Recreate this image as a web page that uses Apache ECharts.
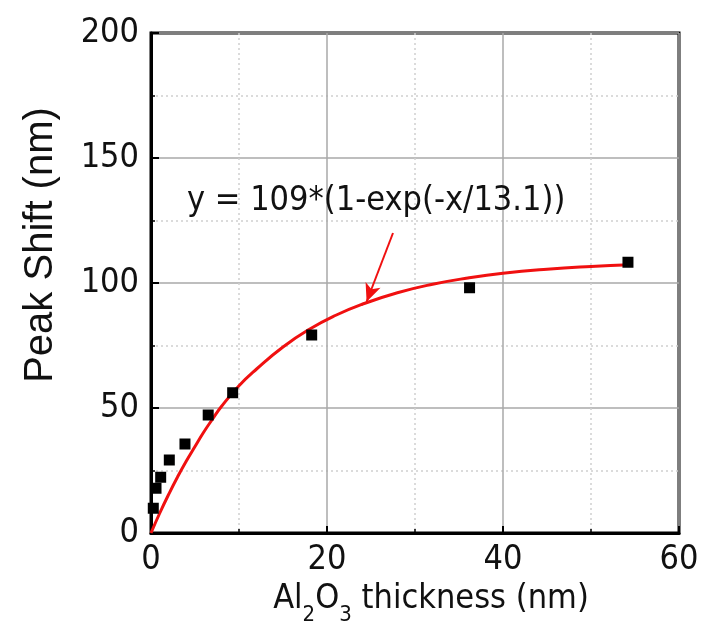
<!DOCTYPE html>
<html><head><meta charset="utf-8">
<script src="https://cdn.jsdelivr.net/npm/echarts@6/dist/echarts.min.js"></script>
<style>html,body{margin:0;padding:0;background:#fff}#c{width:702px;height:639px}</style>
</head><body><div id="c"></div>
<script>
var thickness = [0.26, 0.57, 1.1, 2.08, 3.86, 6.5, 9.28, 18.26, 36.2, 54.2];
var peakShift = [9.9, 17.9, 22.3, 29.2, 35.6, 47.2, 56.1, 79.2, 98.1, 108.3];
var fitX = [0, 1, 2, 3, 4, 5, 6, 7, 8, 10, 12, 15, 18, 21, 24, 28, 32, 36, 40, 45, 50, 54.4];
var fitY = [0, 8.0, 15.4, 22.3, 28.7, 34.6, 40.4, 45.6, 50.6, 58.9, 65.6, 74.4, 81.5, 87.1, 91.5, 96.1, 99.5, 102.0, 103.9, 105.5, 106.6, 107.3];
var xTicks = [0, 20, 40, 60];
var yTicks = [0, 50, 100, 150, 200];
var arrowFrom = [27.5, 120];
var arrowTo = [24.5, 92.5];
var fitLabel = 'y = 109*(1-exp(-x/13.1))';

var NARROW = "'DejaVu Sans Condensed', sans-serif";
var REG = "'Liberation Sans', sans-serif";

var chart = echarts.init(document.getElementById('c'));
chart.setOption({
  animation: false,
  backgroundColor: '#fff',
  grid: {left: 151, right: 23, top: 33, bottom: 106, outerBoundsMode: 'none', containLabel: false,
         show: true, borderColor: '#000', borderWidth: 3, backgroundColor: 'transparent'},
  xAxis: {
    type: 'value', min: xTicks[0], max: xTicks[xTicks.length - 1], interval: 20,
    axisLine: {show: true, onZero: false, lineStyle: {color: '#000', width: 3}},
    axisTick: {show: true, inside: true, length: 7, lineStyle: {color: '#000', width: 2}},
    minorTick: {show: true, splitNumber: 2, length: 4, lineStyle: {color: '#000', width: 1.5}},
    splitLine: {show: true, lineStyle: {color: '#a8a8a8', width: 1.5}},
    minorSplitLine: {show: true, lineStyle: {color: '#cfcfcf', width: 1.5, type: [2, 3]}},
    axisLabel: {color: '#111', fontFamily: NARROW, fontSize: 34, margin: 10},
    name: '{a|Al}{s|2}{a|O}{s|3}{a| thickness (nm)}',
    nameLocation: 'middle', nameGap: 24,
    nameTextStyle: {padding: [0, 0, 0, 32], rich: {
      a: {fontFamily: NARROW, fontSize: 34, color: '#111', verticalAlign: 'bottom', lineHeight: 40},
      s: {fontFamily: NARROW, fontSize: 22, color: '#111', verticalAlign: 'bottom', lineHeight: 40, padding: [0, 0, -10, 0]}
    }}
  },
  yAxis: {
    type: 'value', min: yTicks[0], max: yTicks[yTicks.length - 1], interval: 50,
    axisLine: {show: true, onZero: false, lineStyle: {color: '#000', width: 3}},
    axisTick: {show: true, inside: true, length: 8, lineStyle: {color: '#000', width: 2}},
    minorTick: {show: true, splitNumber: 2, length: 4, lineStyle: {color: '#000', width: 1.5}},
    splitLine: {show: true, lineStyle: {color: '#a8a8a8', width: 1.5}},
    minorSplitLine: {show: true, lineStyle: {color: '#cfcfcf', width: 1.5, type: [2, 3]}},
    axisLabel: {color: '#111', fontFamily: NARROW, fontSize: 34, margin: 12},
    name: 'Peak Shift (nm)', nameLocation: 'middle', nameGap: 90,
    nameTextStyle: {fontFamily: REG, fontSize: 40, color: '#111', padding: [0, 0, 0, 76]}
  },
  graphic: [{
    type: 'text', left: 187, top: 184, z: 100,
    style: {text: fitLabel, font: '34px ' + NARROW, fill: '#111'}
  }],
  series: [{
    type: 'line', data: fitX.map(function (x, i) { return [x, fitY[i]]; }),
    smooth: true, showSymbol: false, symbol: 'none',
    lineStyle: {color: '#f01010', width: 3}, z: 3,
    markLine: {
      silent: true, symbol: ['none', 'arrow'], symbolSize: [12, 18],
      lineStyle: {color: '#f01010', width: 2, type: 'solid'}, label: {show: false},
      data: [[{coord: arrowFrom}, {coord: arrowTo}]]
    }
  }, {
    type: 'scatter', data: thickness.map(function (x, i) { return [x, peakShift[i]]; }),
    symbol: 'rect', symbolSize: 11, itemStyle: {color: '#000', opacity: 1}, z: 4
  }]
});
</script></body></html>
